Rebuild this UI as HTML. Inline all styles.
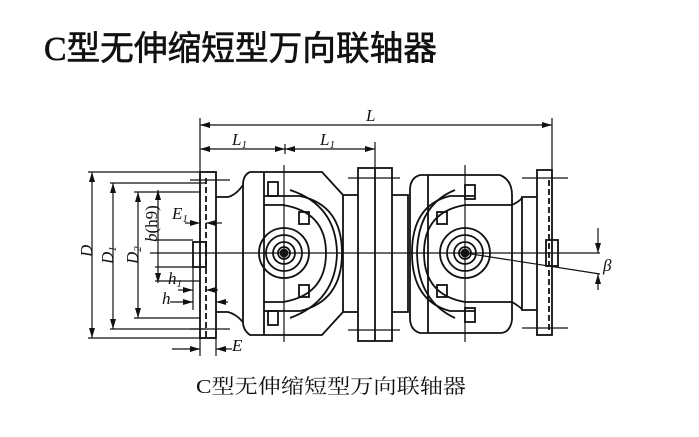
<!DOCTYPE html>
<html><head><meta charset="utf-8"><style>
html,body{margin:0;padding:0;background:#fff;width:699px;height:437px;overflow:hidden}
svg{display:block}
</style></head><body>
<svg width="699" height="437" viewBox="0 0 699 437" xmlns="http://www.w3.org/2000/svg">
<defs>
<marker id="a" viewBox="0 0 10 6" refX="10" refY="3" markerWidth="10" markerHeight="6" orient="auto-start-reverse" markerUnits="userSpaceOnUse"><path d="M0,0 L10,3 L0,6 z" fill="#111"/></marker>
</defs>
<text x="44" y="60" font-family="'Liberation Serif','Noto Sans CJK SC',serif" font-size="34" fill="#111" stroke="#111" stroke-width="0.6" textLength="393" lengthAdjust="spacingAndGlyphs">C型无伸缩短型万向联轴器</text>
<text x="196" y="393" font-family="'Liberation Serif','Noto Serif CJK SC',serif" font-size="20" fill="#111" textLength="270" lengthAdjust="spacingAndGlyphs">C型无伸缩短型万向联轴器</text>

<g stroke="#111" stroke-width="1.8" fill="none">
<line x1="200" y1="118" x2="200" y2="172" stroke-width="1.2"/>
<line x1="552" y1="118" x2="552" y2="170" stroke-width="1.2"/>
<line x1="375" y1="142" x2="375" y2="168" stroke-width="1.2"/>
<line x1="200" y1="125" x2="552" y2="125" stroke-width="1.2" marker-start="url(#a)" marker-end="url(#a)"/>
<line x1="200" y1="149" x2="285" y2="149" stroke-width="1.2" marker-start="url(#a)" marker-end="url(#a)"/>
<line x1="285" y1="149" x2="375" y2="149" stroke-width="1.2" marker-start="url(#a)" marker-end="url(#a)"/>
<line x1="285" y1="144" x2="285" y2="154" stroke-width="1.2"/>

<line x1="150" y1="253" x2="600" y2="253" stroke-width="1.2"/>

<rect x="200" y="172" width="16" height="166"/>
<line x1="206" y1="178" x2="206" y2="338" stroke-dasharray="6,3"/>
<rect x="193" y="242" width="13" height="25"/>
<line x1="190" y1="180" x2="230" y2="180" stroke-width="1.2"/>
<line x1="190" y1="329" x2="230" y2="329" stroke-width="1.2"/>
<path d="M216,197 L228,197 Q236,195 243,185 M216,312 L228,312 Q236,314 243,322"/>
<path d="M243,185 L243,322 M250,172 L322,172 L343,195 L343,312 L322,335 L250,335 Q243,330 243,322 M243,185 Q243,175 250,172"/>
<line x1="264" y1="172" x2="264" y2="335"/>
<line x1="284" y1="165" x2="284" y2="342" stroke-width="1.2"/>
<rect x="268" y="182" width="10" height="14"/>
<rect x="268" y="311" width="10" height="14"/>
<rect x="299" y="212" width="10" height="12"/>
<rect x="299" y="285" width="10" height="12"/>
<path d="M264,196 L300,196 Q342,205 342,253 Q342,301 300,311 L264,311"/>
<path d="M290,190 Q336,205 337,253 Q336,301 290,318"/>
<path d="M264,205 L283,205 Q326,212 326,253 Q326,295 283,302 L264,302"/>
<circle cx="284" cy="253" r="25"/>
<circle cx="284" cy="253" r="18"/>
<circle cx="284" cy="253" r="11"/>
<circle cx="284" cy="253" r="6"/>
<circle cx="284" cy="253" r="3.5" fill="#111"/>
<line x1="343" y1="195" x2="358" y2="195"/>
<line x1="343" y1="312" x2="358" y2="312"/>

<rect x="358" y="168" width="34" height="173"/>
<line x1="375" y1="168" x2="375" y2="341"/>
<line x1="348" y1="178" x2="400" y2="178" stroke-width="1.2"/>
<line x1="348" y1="330" x2="400" y2="330" stroke-width="1.2"/>
<path d="M392,195 L408,195 L408,312 L392,312"/>

<path d="M410,190 Q410,178 420,175 L500,175 Q512,180 512,195 L512,320 Q510,333 500,333 L420,333 Q410,330 410,318 Z"/>
<line x1="465" y1="165" x2="465" y2="342" stroke-width="1.2"/>
<line x1="428" y1="175" x2="428" y2="333"/>
<rect x="465" y="185" width="10" height="14"/>
<rect x="465" y="308" width="10" height="14"/>
<rect x="437" y="212" width="10" height="12"/>
<rect x="437" y="285" width="10" height="12"/>
<path d="M475,196 L450,196 Q412,205 412,253 Q412,301 450,311 L475,311"/>
<path d="M455,190 Q418,205 417,253 Q418,301 455,318"/>
<path d="M512,205 L465,205 Q424,212 424,253 Q424,295 465,302 L512,302"/>
<circle cx="465" cy="253" r="25"/>
<circle cx="465" cy="253" r="18"/>
<circle cx="465" cy="253" r="11"/>
<circle cx="465" cy="253" r="6"/>
<circle cx="465" cy="253" r="3.5" fill="#111"/>
<path d="M512,205 Q522,200 522,197 L537,197 M512,302 Q522,308 522,310 L537,310"/>
<line x1="522" y1="197" x2="522" y2="310"/>
<rect x="537" y="170" width="15" height="165"/>
<line x1="549" y1="180" x2="549" y2="330" stroke-dasharray="6,3"/>
<rect x="546" y="240" width="12" height="26"/>
<line x1="522" y1="178" x2="568" y2="178" stroke-width="1.2"/>
<line x1="522" y1="328" x2="568" y2="328" stroke-width="1.2"/>
<line x1="465" y1="253" x2="600" y2="274" stroke-width="1.2"/>
<line x1="598" y1="228" x2="598" y2="253" stroke-width="1.2" marker-end="url(#a)"/>
<line x1="598" y1="290" x2="598" y2="274" stroke-width="1.2" marker-end="url(#a)"/>

<g stroke-width="1.2">
<line x1="88" y1="172" x2="200" y2="172"/>
<line x1="88" y1="338" x2="216" y2="338"/>
<line x1="92" y1="172" x2="92" y2="338" marker-start="url(#a)" marker-end="url(#a)"/>
<line x1="110" y1="183" x2="206" y2="183"/>
<line x1="110" y1="329" x2="206" y2="329"/>
<line x1="113" y1="183" x2="113" y2="329" marker-start="url(#a)" marker-end="url(#a)"/>
<line x1="134" y1="192" x2="200" y2="192"/>
<line x1="134" y1="318" x2="200" y2="318"/>
<line x1="138" y1="192" x2="138" y2="318" marker-start="url(#a)" marker-end="url(#a)"/>
<line x1="158" y1="190" x2="158" y2="283" marker-start="url(#a)" marker-end="url(#a)"/>
<line x1="155" y1="240" x2="193" y2="240"/>
<line x1="155" y1="267" x2="193" y2="267"/>
<line x1="155" y1="281" x2="200" y2="281"/>
<line x1="185" y1="223" x2="200" y2="223" marker-end="url(#a)"/>
<line x1="206" y1="223" x2="222" y2="223" marker-start="url(#a)"/>
<line x1="200" y1="206" x2="200" y2="230"/>
<line x1="178" y1="290" x2="193" y2="290" marker-end="url(#a)"/>
<line x1="206" y1="290" x2="218" y2="290" marker-start="url(#a)"/>
<line x1="170" y1="302" x2="193" y2="302" marker-end="url(#a)"/>
<line x1="216" y1="302" x2="228" y2="302" marker-start="url(#a)"/>
<line x1="193" y1="267" x2="193" y2="310"/>
<line x1="200" y1="338" x2="200" y2="356"/>
<line x1="216" y1="338" x2="216" y2="356"/>
<line x1="172" y1="349" x2="200" y2="349" marker-end="url(#a)"/>
<line x1="232" y1="349" x2="216" y2="349" marker-end="url(#a)"/>
</g>
</g>
<g font-family="'Liberation Serif',serif" font-style="italic" font-size="17" fill="#111">
<text x="366" y="121">L</text>
<text x="232" y="145">L<tspan font-size="11" dy="3">1</tspan></text>
<text x="320" y="145">L<tspan font-size="11" dy="3">1</tspan></text>
<text x="603" y="271">β</text>
<text x="172" y="219">E<tspan font-size="11" dy="3">1</tspan></text>
<text x="168" y="284">h<tspan font-size="11" dy="3">1</tspan></text>
<text x="162" y="304">h</text>
<text x="232" y="351">E</text>
<text transform="translate(92,257) rotate(-90)">D</text>
<text transform="translate(113,264) rotate(-90)">D<tspan font-size="11" dy="3">1</tspan></text>
<text transform="translate(138,264) rotate(-90)">D<tspan font-size="11" dy="3">2</tspan></text>
<text transform="translate(157,242) rotate(-90)">b<tspan font-style="normal">(h9)</tspan></text>
</g>
</svg>
</body></html>
